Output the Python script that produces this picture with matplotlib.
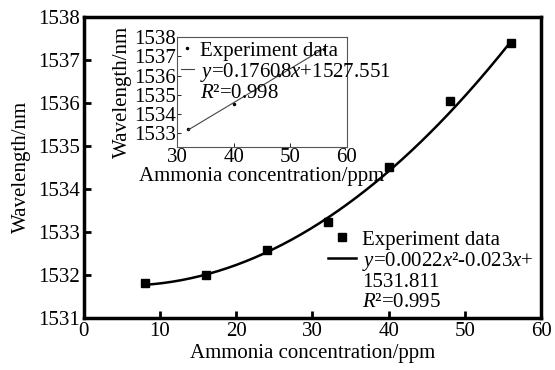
import numpy as np
import matplotlib
matplotlib.use('Agg')
import matplotlib.pyplot as plt
from matplotlib.lines import Line2D

plt.rcParams['font.family'] = ['Liberation Serif', 'DejaVu Serif']
plt.rcParams['mathtext.fontset'] = 'custom'
plt.rcParams['mathtext.rm'] = 'Liberation Serif'
plt.rcParams['mathtext.it'] = 'Liberation Serif:italic'
plt.rcParams['font.size'] = 15

# data
conc = [8, 16, 24, 32, 40, 48, 56]
wavelength = [1531.81, 1531.99, 1532.57, 1533.22, 1534.52, 1536.05, 1537.40]
quad_coef = [0.0022, -0.023, 1531.811]

inset_conc = [32, 40, 48, 56]
inset_wl = [1533.22, 1534.52, 1536.05, 1537.40]
lin_coef = [0.17608, 1527.551]

main_labels = ['Experiment data', '$y$=0.0022$x$²-0.023$x$+', '1531.811',
               '$R$²=0.995']
inset_labels = ['Experiment data', '$y$=0.17608$x$+1527.551', '$R$²=0.998']


def blank():
    return Line2D([], [], linestyle='none', marker=None)


def main():
    fig = plt.figure(figsize=(5.55, 3.7), dpi=100)
    ax = fig.add_axes([0.151, 0.141, 0.824, 0.813])

    pts, = ax.plot(conc, wavelength, 's', color='black', ms=5.5)
    xf = np.linspace(conc[0], conc[-1], 200)
    fit, = ax.plot(xf, np.polyval(quad_coef, xf), '-', color='black', lw=1.8)
    ax.set_xlim(0, 60)
    ax.set_ylim(1531, 1538)
    ax.set_xticks(range(0, 61, 10))
    ax.set_yticks(range(1531, 1539))
    ax.ticklabel_format(useOffset=False, style='plain')
    ax.tick_params(direction='in', length=5, width=2, pad=3)
    for s in ax.spines.values():
        s.set_linewidth(2.5)
    ax.set_xlabel('Ammonia concentration/ppm', labelpad=2)
    ax.set_ylabel('Wavelength/nm', labelpad=5)
    ax.legend([pts, fit, blank(), blank()], main_labels, loc='upper left',
              bbox_to_anchor=(0.535, 0.292), frameon=False,
              handlelength=1.3, handletextpad=0.3, labelspacing=0.0,
              borderpad=0.0, borderaxespad=0.0)

    ins = fig.add_axes([0.319, 0.603, 0.306, 0.297])
    ipts, = ins.plot(inset_conc, inset_wl, '.', color='black', ms=3)
    xl = np.linspace(inset_conc[0], inset_conc[-1], 50)
    ifit, = ins.plot(xl, np.polyval(lin_coef, xl), '-', color='#444444',
                     lw=0.8)
    ins.set_xlim(30, 60)
    ins.set_ylim(1532.3, 1538)
    ins.set_xticks(range(30, 61, 10))
    ins.set_yticks(range(1533, 1539))
    ins.ticklabel_format(useOffset=False, style='plain')
    ins.tick_params(direction='in', length=3, width=0.6, pad=1)
    for s in ins.spines.values():
        s.set_linewidth(0.8)
        s.set_color('#555555')
    ins.set_xlabel('Ammonia concentration/ppm', labelpad=0)
    ins.set_ylabel('Wavelength/nm', labelpad=1)
    ins.legend([ipts, ifit, blank()], inset_labels, loc='upper left',
               bbox_to_anchor=(0.0, 1.0), frameon=False,
               handlelength=0.6, handletextpad=0.3, labelspacing=0.0,
               borderpad=0.1, borderaxespad=0.1)

    fig.savefig('out.png', dpi=100)
    plt.close(fig)


if __name__ == '__main__':
    main()
